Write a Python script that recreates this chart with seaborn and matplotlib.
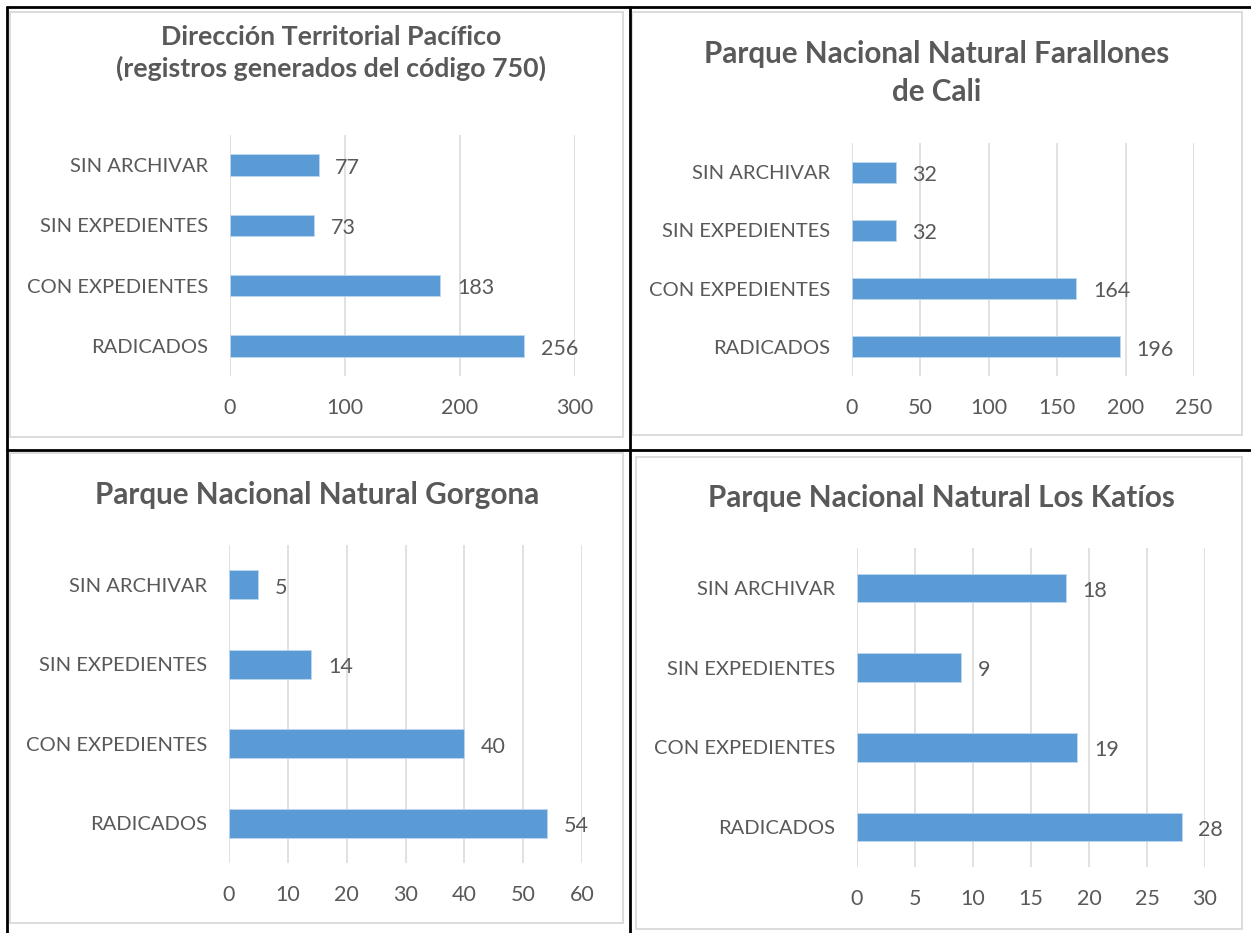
import matplotlib
matplotlib.use("Agg")
import matplotlib.pyplot as plt
import seaborn as sns
from matplotlib.lines import Line2D
from matplotlib.patches import Rectangle

# Data
categories = ["SIN ARCHIVAR", "SIN EXPEDIENTES", "CON EXPEDIENTES", "RADICADOS"]

pacifico_values = [77, 73, 183, 256]
farallones_values = [32, 32, 164, 196]
gorgona_values = [5, 14, 40, 54]
katios_values = [18, 9, 19, 28]

pacifico_ticks = [0, 100, 200, 300]
farallones_ticks = [0, 50, 100, 150, 200, 250]
gorgona_ticks = [0, 10, 20, 30, 40, 50, 60]
katios_ticks = [0, 5, 10, 15, 20, 25, 30]

pacifico_title = "Dirección Territorial Pacífico\n(registros generados del código 750)"
farallones_title = "Parque Nacional Natural Farallones\nde Cali"
gorgona_title = "Parque Nacional Natural Gorgona"
katios_title = "Parque Nacional Natural Los Katíos"

# Style
W, H = 1251, 933
BLUE = "#5B9BD5"
TEXT = "#595959"
GRID = "#D9D9D9"
CAT_SIZE = 14.5
NUM_SIZE = 15.5


def fx(x):
    return x / W


def fy(y):
    return 1 - y / H


def add_box(fig, x0, y0, x1, y1):
    fig.add_artist(Rectangle((fx(x0), fy(y1)), fx(x1) - fx(x0), fy(y0) - fy(y1),
                             transform=fig.transFigure, fill=False,
                             edgecolor=GRID, linewidth=1.3))


def add_line(fig, x0, y0, x1, y1):
    fig.add_artist(Line2D([fx(x0), fx(x1)], [fy(y0), fy(y1)],
                          transform=fig.transFigure, color="black", linewidth=2.0))


def draw_panel(fig, rect, values, ticks, title, title_xy, title_size, spacing=1.3):
    left, top, right, bottom = rect
    ax = fig.add_axes([fx(left), fy(bottom), fx(right) - fx(left), fy(top) - fy(bottom)])

    sns.barplot(x=values, y=categories, orient="h", color=BLUE, saturation=1,
                width=0.36, edgecolor="#BDD7EE", linewidth=0.6, ax=ax)

    ax.set_xlim(0, ticks[-1])
    ax.set_ylim(3.5, -0.5)
    ax.set_xticks(ticks)
    ax.set_xlabel("")
    ax.set_ylabel("")
    ax.grid(axis="x", color=GRID, linewidth=1.1)
    ax.grid(axis="y", visible=False)
    ax.set_axisbelow(True)
    for s in ax.spines.values():
        s.set_visible(False)
    ax.tick_params(axis="y", length=0, pad=16, labelsize=CAT_SIZE, labelcolor=TEXT)
    ax.tick_params(axis="x", length=0, pad=15.5, labelsize=NUM_SIZE, labelcolor=TEXT)

    labels = ax.bar_label(ax.containers[0], padding=12, fontsize=NUM_SIZE, color=TEXT)
    # Excel puts the data labels a touch below the bar centre
    for t in labels:
        t.xyann = (12, -2)

    fig.text(fx(title_xy[0]), fy(title_xy[1]), title, ha="center", va="center",
             fontsize=title_size, fontweight="bold", color=TEXT, linespacing=spacing)
    return ax


def main():
    sns.set_theme(style="white")
    plt.rcParams["font.family"] = ["Lato", "DejaVu Sans"]

    fig = plt.figure(figsize=(W / 100, H / 100), dpi=100)
    fig.patch.set_facecolor("white")

    # chart frames
    add_box(fig, 10, 12, 623, 437)
    add_box(fig, 632, 12, 1242, 435)
    add_box(fig, 10, 453, 623, 923)
    add_box(fig, 636, 457, 1242, 929)

    # table lines
    add_line(fig, 7, 7, 1251, 7)
    add_line(fig, 7, 7, 7, 933)
    add_line(fig, 630, 7, 630, 933)
    add_line(fig, 7, 450, 1251, 450)

    draw_panel(fig, (230, 135, 575, 376), pacifico_values, pacifico_ticks,
               pacifico_title, (331, 53), 19.3, 1.36)
    draw_panel(fig, (852, 143, 1194, 376), farallones_values, farallones_ticks,
               farallones_title, (937, 73), 21.3, 1.44)
    draw_panel(fig, (229, 545, 582, 863), gorgona_values, gorgona_ticks,
               gorgona_title, (317, 495), 21.3)
    draw_panel(fig, (857, 548, 1205, 867), katios_values, katios_ticks,
               katios_title, (941, 498), 21.3)

    fig.savefig("out.png", dpi=100)


if __name__ == "__main__":
    main()
